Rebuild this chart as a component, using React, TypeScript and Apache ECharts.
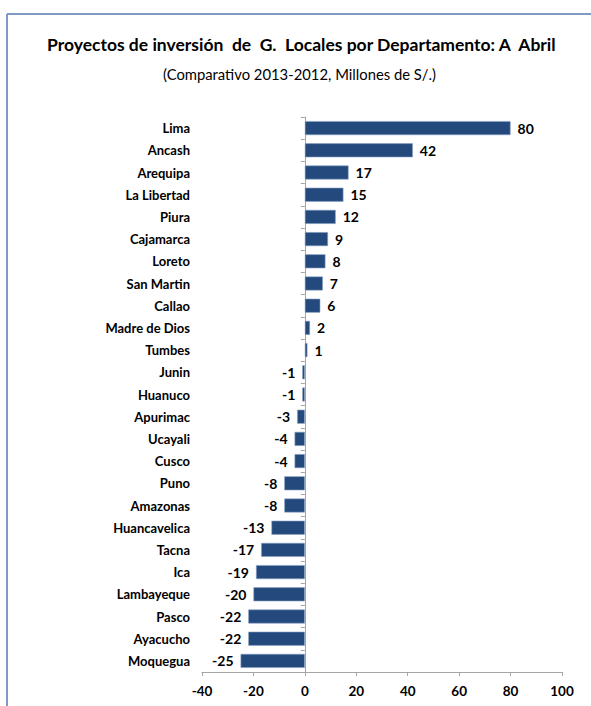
import React, { useEffect, useRef } from "react";
import * as echarts from "echarts";

const categories = [
  "Lima", "Ancash", "Arequipa", "La Libertad", "Piura", "Cajamarca", "Loreto",
  "San Martin", "Callao", "Madre de Dios", "Tumbes", "Junin", "Huanuco",
  "Apurimac", "Ucayali", "Cusco", "Puno", "Amazonas", "Huancavelica", "Tacna",
  "Ica", "Lambayeque", "Pasco", "Ayacucho", "Moquegua",
];
const values = [80, 42, 17, 15, 12, 9, 8, 7, 6, 2, 1, -1, -1, -3, -4, -4, -8, -8, -13, -17, -19, -20, -22, -22, -25];

const titleText = "Proyectos de inversión  de  G.  Locales por Departamento: A  Abril";
const subtitleText = "(Comparativo 2013-2012, Millones de S/.)";

const FONT = "Lato, 'Open Sans', sans-serif";

export default function App() {
  const ref = useRef<HTMLDivElement>(null);
  useEffect(() => {
    if (!ref.current) return;
    const chart = echarts.init(ref.current, null, { renderer: "svg" });
    chart.setOption({
      animation: false,
      backgroundColor: "#ffffff",
      textStyle: { fontFamily: FONT },
      title: [
        {
          text: titleText,
          left: 47,
          top: 35,
          padding: 0,
          textStyle: { fontFamily: FONT, fontWeight: "bold", fontSize: 17.5, color: "#000" },
        },
        {
          text: subtitleText,
          left: 163,
          top: 66,
          padding: 0,
          textStyle: { fontFamily: FONT, fontWeight: "normal", fontSize: 14.8, color: "#000" },
        },
      ],
      graphic: [
        { type: "line", shape: { x1: 7, y1: 14, x2: 591, y2: 14 }, style: { stroke: "#7f9bc4", lineWidth: 2 } },
        { type: "line", shape: { x1: 7, y1: 14, x2: 7, y2: 706 }, style: { stroke: "#7f9bc4", lineWidth: 2 } },
      ],
      grid: { left: 202, right: 29, top: 117, bottom: 34, containLabel: false },
      xAxis: {
        type: "value",
        min: -40,
        max: 100,
        interval: 20,
        splitLine: { show: false },
        axisLine: { show: true, lineStyle: { color: "#a6a6a6", width: 1 } },
        axisTick: { show: true, length: 4, lineStyle: { color: "#a6a6a6" } },
        axisLabel: { fontFamily: FONT, fontWeight: "bold", fontSize: 13.5, color: "#000", margin: 12 },
      },
      yAxis: [
        {
          type: "category",
          data: categories,
          inverse: true,
          position: "left",
          axisLine: { show: false, onZero: false },
          axisTick: { show: false },
          axisLabel: { fontFamily: FONT, fontWeight: "bold", fontSize: 13, color: "#000", margin: 12 },
        },
        {
          type: "category",
          data: categories,
          inverse: true,
          axisLine: { show: true, onZero: true, lineStyle: { color: "#a6a6a6", width: 1 } },
          axisTick: { show: true, inside: true, length: 4, lineStyle: { color: "#a6a6a6" } },
          axisLabel: { show: false },
        },
      ],
      series: [
        {
          type: "bar",
          yAxisIndex: 0,
          barWidth: 14,
          data: values.map((v) => ({
            value: v,
            label: { position: v < 0 ? "left" : "right" },
          })),
          itemStyle: { color: "#24497c", borderColor: "#8aa3c8", borderWidth: 0.6 },
          label: {
            show: true,
            distance: 7,
            fontFamily: FONT,
            fontWeight: "bold",
            fontSize: 14,
            color: "#000",
          },
        },
      ],
    });
    return () => chart.dispose();
  }, []);
  return (
    <div
      ref={ref}
      style={{ position: "fixed", left: 0, top: 0, width: 591, height: 706 }}
    />
  );
}
